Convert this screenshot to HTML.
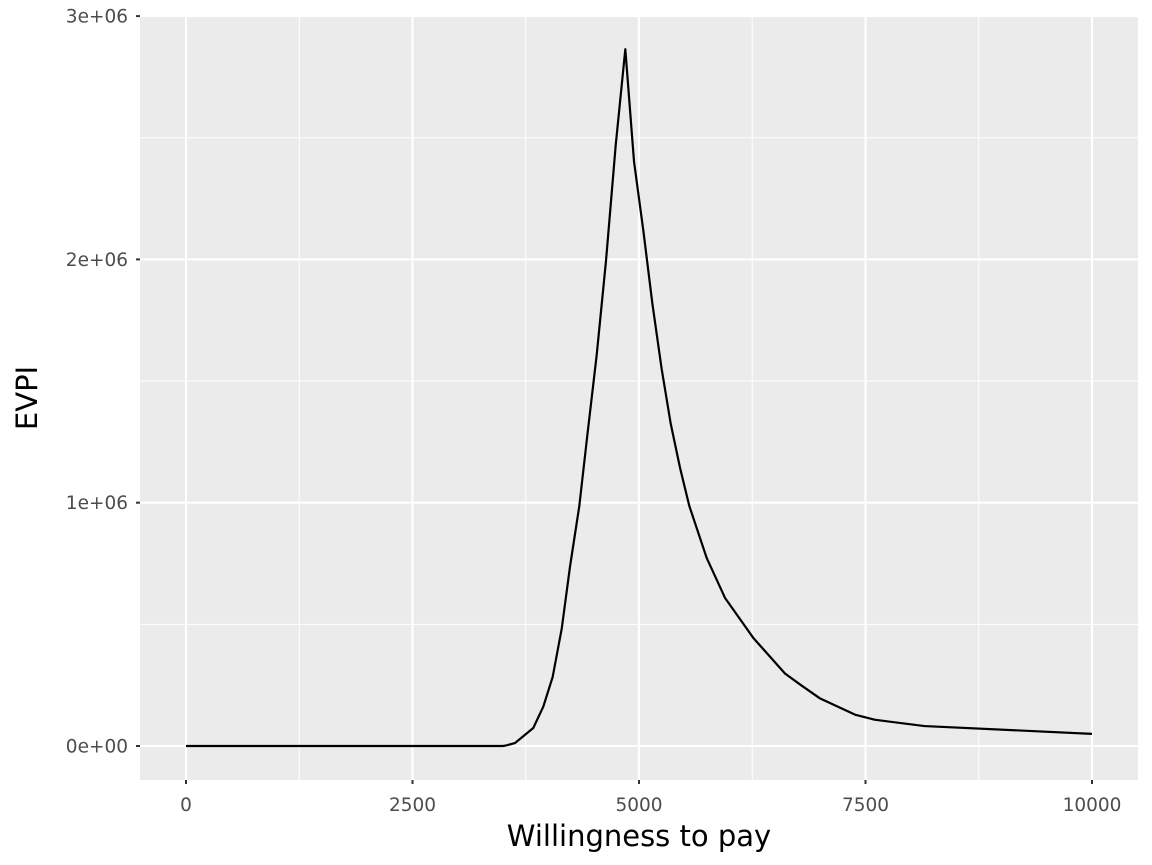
<!DOCTYPE html>
<html><head><meta charset="utf-8">
<style>
html,body{margin:0;padding:0;background:#fff;}
svg{display:block;font-family:"DejaVu Sans","Liberation Sans",sans-serif;}
</style></head>
<body>
<svg id="chart" width="1152" height="865" viewBox="0 0 1152 865" xmlns="http://www.w3.org/2000/svg">
<rect x="140" y="15" width="998" height="765" fill="#EBEBEB"/>
<g id="grid"></g>
<g id="axes"></g>
<path id="line" fill="none" stroke="#000" stroke-width="2.2" stroke-linejoin="round"/>
<text x="639" y="846" font-size="29" text-anchor="middle" fill="#000">Willingness to pay</text>
<text transform="translate(37,398) rotate(-90)" font-size="29" text-anchor="middle" fill="#000">EVPI</text>
</svg>
<script>
const categories = [0,3500,3540,3631,3833,3944,4047,4147,4238,4341,4430,4533,4636,4743,4849,4945,5047,5147,5250,5350,5453,5555,5747,5949,6262,6611,6777,7000,7390,7600,8150,10000];
const seriesValues = [0,0,3000,12000,74000,162000,284000,482000,736000,986000,1278000,1607000,1995000,2470000,2864000,2402000,2121000,1820000,1550000,1325000,1143000,987000,773000,609000,444000,298000,253000,195000,128000,108000,82000,50000];
const xTicks = [0,2500,5000,7500,10000];
const xTickLabels = ["0","2500","5000","7500","10000"];
const xMinor = [1250,3750,6250,8750];
const yTicks = [0,1000000,2000000,3000000];
const yTickLabels = ["0e+00","1e+06","2e+06","3e+06"];
const yMinor = [500000,1500000,2500000];

const L=140,R=1138,T=15,B=780;
function sx(v){return 186+(v/10000)*(1092-186);}
function sy(v){return 746-(v/1000000)*243.3;}
const NS="http://www.w3.org/2000/svg";
const grid=document.getElementById('grid'), axes=document.getElementById('axes');
function ln(p,x1,y1,x2,y2,c,w,name){const e=document.createElementNS(NS,'line');
e.setAttribute('x1',x1);e.setAttribute('y1',y1);e.setAttribute('x2',x2);e.setAttribute('y2',y2);
e.setAttribute('stroke',c);e.setAttribute('stroke-width',w);


p.appendChild(e);}
function tx(p,x,y,s,anchor,name){const e=document.createElementNS(NS,'text');
e.setAttribute('x',x);e.setAttribute('y',y);e.setAttribute('font-size','18.5');e.setAttribute('fill','#4D4D4D');e.setAttribute('text-anchor',anchor);
e.textContent=s;


p.appendChild(e);}
xMinor.forEach(v=>ln(grid,sx(v),T,sx(v),B,'#fff',1,'x-minor-gridline'));
yMinor.forEach(v=>ln(grid,L,sy(v),R,sy(v),'#fff',1,'y-minor-gridline'));
xTicks.forEach((v,i)=>{ln(grid,sx(v),T,sx(v),B,'#fff',2.1,'x-major-gridline');
 ln(axes,sx(v),B,sx(v),B+4,'#333',2,'x-tick');
 tx(axes,sx(v),811,xTickLabels[i],'middle','x-tick-label');});
yTicks.forEach((v,i)=>{ln(grid,L,sy(v),R,sy(v),'#fff',2.1,'y-major-gridline');
 ln(axes,L-4,sy(v),L,sy(v),'#333',2,'y-tick');
 tx(axes,L-12,sy(v)+6.5,yTickLabels[i],'end','y-tick-label');});
let d='';
categories.forEach((c,i)=>{d+=(i?'L':'M')+sx(c).toFixed(2)+','+sy(seriesValues[i]).toFixed(2);});
document.getElementById('line').setAttribute('d',d);
</script>
</body></html>
